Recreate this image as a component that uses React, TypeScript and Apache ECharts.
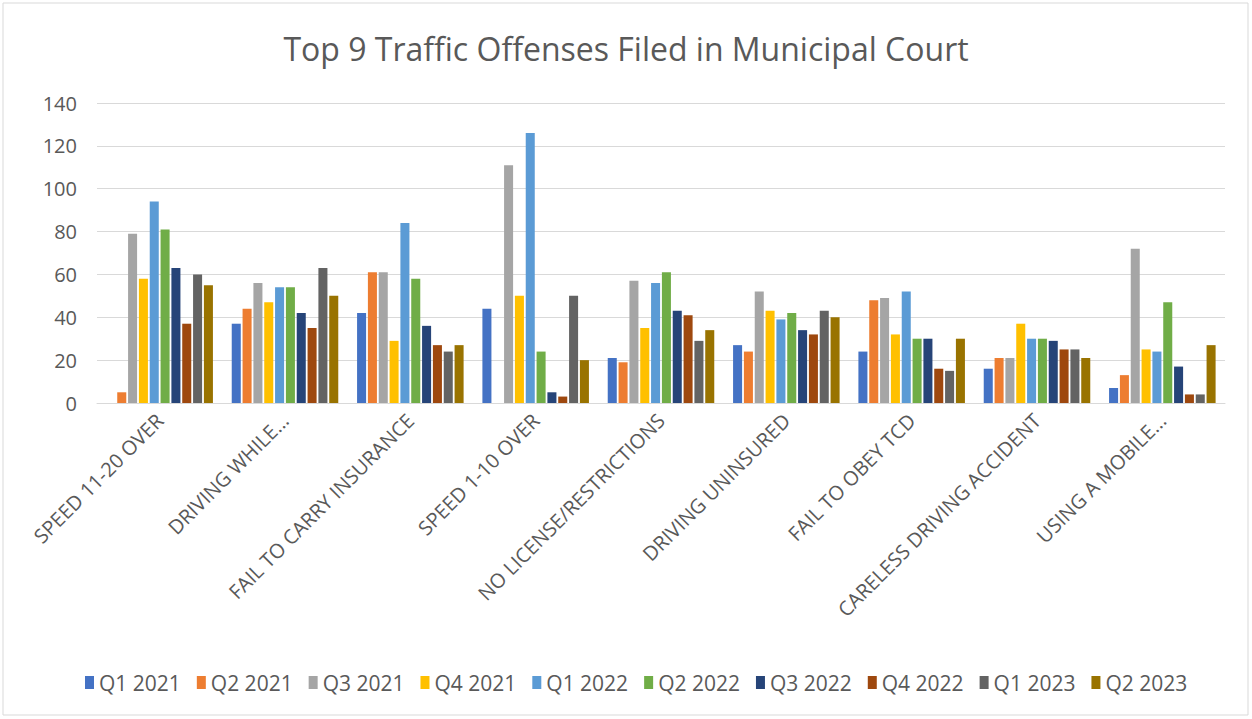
import React, { useEffect, useRef } from "react";
import * as echarts from "echarts";

const categories = [
  "SPEED 11-20 OVER",
  "DRIVING WHILE...",
  "FAIL TO CARRY INSURANCE",
  "SPEED 1-10 OVER",
  "NO LICENSE/RESTRICTIONS",
  "DRIVING UNINSURED",
  "FAIL TO OBEY TCD",
  "CARELESS DRIVING ACCIDENT",
  "USING A MOBILE...",
];

const seriesNames = [
  "Q1 2021", "Q2 2021", "Q3 2021", "Q4 2021", "Q1 2022",
  "Q2 2022", "Q3 2022", "Q4 2022", "Q1 2023", "Q2 2023",
];

const q1_2021 = [0, 37, 42, 44, 21, 27, 24, 16, 7];
const q2_2021 = [5, 44, 61, 0, 19, 24, 48, 21, 13];
const q3_2021 = [79, 56, 61, 111, 57, 52, 49, 21, 72];
const q4_2021 = [58, 47, 29, 50, 35, 43, 32, 37, 25];
const q1_2022 = [94, 54, 84, 126, 56, 39, 52, 30, 24];
const q2_2022 = [81, 54, 58, 24, 61, 42, 30, 30, 47];
const q3_2022 = [63, 42, 36, 5, 43, 34, 30, 29, 17];
const q4_2022 = [37, 35, 27, 3, 41, 32, 16, 25, 4];
const q1_2023 = [60, 63, 24, 50, 29, 43, 15, 25, 4];
const q2_2023 = [55, 50, 27, 20, 34, 40, 30, 21, 27];

const seriesValues = [
  q1_2021, q2_2021, q3_2021, q4_2021, q1_2022,
  q2_2022, q3_2022, q4_2022, q1_2023, q2_2023,
];

const colors = [
  "#4472C4", "#ED7D31", "#A5A5A5", "#FFC000", "#5B9BD5",
  "#70AD47", "#264478", "#9E480E", "#636363", "#997300",
];

const FONT = "'Open Sans', 'Noto Sans', sans-serif";

export default function App() {
  const ref = useRef<HTMLDivElement>(null);
  useEffect(() => {
    if (!ref.current) return;
    const chart = echarts.init(ref.current, null, { renderer: "svg" });
    chart.setOption({
      animation: false,
      color: colors,
      backgroundColor: "#ffffff",
      title: {
        text: "Top 9 Traffic Offenses Filed in Municipal Court",
        left: "center",
        top: 27,
        textStyle: { color: "#595959", fontSize: 32, fontWeight: "normal", fontFamily: FONT },
      },
      grid: { left: 97, right: 27, top: 103, bottom: 316, containLabel: false },
      legend: {
        bottom: 21,
        left: 80,
        itemWidth: 9,
        itemHeight: 13,
        itemGap: 16,
        icon: "rect",
        textStyle: { color: "#595959", fontSize: 21, fontFamily: FONT },
        data: seriesNames,
      },
      xAxis: {
        type: "category",
        data: categories,
        axisLine: { lineStyle: { color: "#d9d9d9", width: 1 } },
        axisTick: { show: false },
        axisLabel: {
          rotate: 45,
          color: "#595959",
          fontSize: 20,
          fontFamily: FONT,
          interval: 0,
          margin: 14,
        },
      },
      yAxis: {
        type: "value",
        min: 0,
        max: 140,
        interval: 20,
        axisLine: { show: false },
        axisTick: { show: false },
        splitLine: { lineStyle: { color: "#d9d9d9", width: 1 } },
        axisLabel: { color: "#595959", fontSize: 20, fontFamily: FONT, margin: 20 },
      },
      series: seriesNames.map((name, i) => ({
        name,
        type: "bar",
        data: seriesValues[i],
        barGap: "20%",
        barCategoryGap: "15%",
        itemStyle: { color: colors[i] },
      })),
      graphic: [
        {
          type: "rect",
          shape: { x: 3, y: 3, width: 1245, height: 712 },
          style: { fill: "none", stroke: "#d9d9d9", lineWidth: 1 },
          silent: true,
        },
      ],
    });
    return () => chart.dispose();
  }, []);
  return (
    <div
      ref={ref}
      style={{ position: "fixed", left: 0, top: 0, width: 1252, height: 719 }}
    />
  );
}
